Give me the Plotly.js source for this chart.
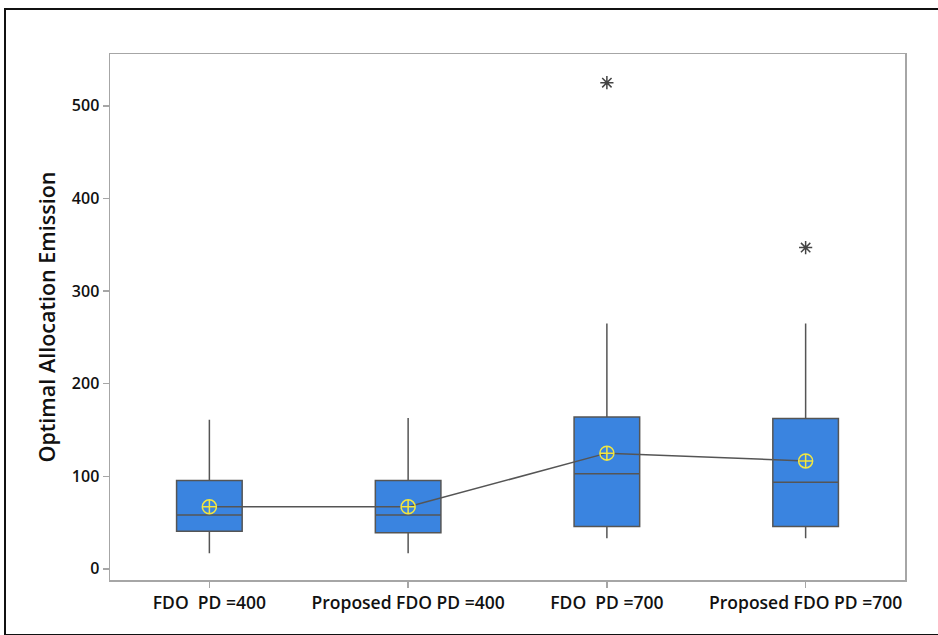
<!DOCTYPE html>
<html>
<head>
<meta charset="utf-8">
<script src="https://cdn.plot.ly/plotly-3.0.1.min.js"></script>
<style>
  html, body { margin: 0; padding: 0; background: #ffffff; }
  #frame { position: absolute; left: 4px; top: 8px; width: 940px; height: 628px; border: 2px solid #111; box-sizing: border-box; pointer-events: none; z-index: 5; }
  #chart { position: absolute; left: 0; top: 0; width: 938px; height: 635px; }
</style>
</head>
<body>
<div id="chart"></div>
<div id="frame"></div>
<script>
const categories = ['FDO\u00a0 PD =400', 'Proposed FDO PD =400', 'FDO\u00a0 PD =700', 'Proposed FDO PD =700'];
const lowerFence = [17, 17, 33, 33];
const q1Values = [40.7, 38.9, 45.7, 45.7];
const medianValues = [58.3, 58.3, 102.6, 93.6];
const q3Values = [95.4, 95.4, 164, 162.3];
const upperFence = [161, 163, 265, 265];
const meanValues = [67, 67, 125, 116.6];
const outlierCategories = ['FDO\u00a0 PD =700', 'Proposed FDO PD =700'];
const outlierValues = [525, 347];
const yTicks = [0, 100, 200, 300, 400, 500];

const traces = [
  {
    type: 'box',
    x: categories,
    q1: q1Values,
    median: medianValues,
    q3: q3Values,
    lowerfence: lowerFence,
    upperfence: upperFence,
    width: 0.33,
    fillcolor: '#3a84e0',
    line: { color: '#555555', width: 1.5 },
    whiskerwidth: 0,
    boxpoints: false,
    hoverinfo: 'skip',
    showlegend: false
  },
  {
    type: 'scatter',
    mode: 'lines',
    x: categories,
    y: meanValues,
    line: { color: '#555555', width: 1.5 },
    hoverinfo: 'skip',
    showlegend: false
  },
  {
    type: 'scatter',
    mode: 'markers',
    x: categories,
    y: meanValues,
    marker: { symbol: 'circle-cross-open', size: 14, color: '#f2e640', line: { width: 1.5, color: '#f2e640' } },
    hoverinfo: 'skip',
    showlegend: false
  },
  {
    type: 'scatter',
    mode: 'markers',
    x: outlierCategories,
    y: outlierValues,
    marker: { symbol: 'asterisk-open', size: 11, color: '#444444', line: { width: 1.5, color: '#444444' } },
    hoverinfo: 'skip',
    showlegend: false
  }
];

const layout = {
  width: 938,
  height: 635,
  margin: { l: 110, r: 33, t: 54, b: 55 },
  paper_bgcolor: '#ffffff',
  plot_bgcolor: '#ffffff',
  font: { family: 'Open Sans, Noto Sans, sans-serif', color: '#111111' },
  showlegend: false,
  xaxis: {
    type: 'category',
    categoryorder: 'array',
    categoryarray: categories,
    range: [-0.5, 3.5],
    showline: true,
    mirror: true,
    linecolor: '#a6a6a6',
    linewidth: 1.5,
    showgrid: false,
    zeroline: false,
    ticks: 'outside',
    ticklen: 6,
    tickcolor: '#a6a6a6',
    tickwidth: 1.5,
    tickfont: { size: 17.5, color: '#111111', weight: 600 }
  },
  yaxis: {
    range: [-12, 556],
    tickvals: yTicks,
    ticktext: yTicks.map(String),
    showline: true,
    mirror: true,
    linecolor: '#a6a6a6',
    linewidth: 1.5,
    showgrid: false,
    zeroline: false,
    ticks: 'outside',
    ticklen: 6,
    tickcolor: '#a6a6a6',
    tickwidth: 1.5,
    tickfont: { size: 16, color: '#111111', weight: 600 },
    title: { text: 'Optimal Allocation Emission', font: { size: 21.5, color: '#111111', weight: 600 }, standoff: 10 }
  }
};

Plotly.newPlot('chart', traces, layout, { staticPlot: true, displayModeBar: false });
</script>
</body>
</html>
